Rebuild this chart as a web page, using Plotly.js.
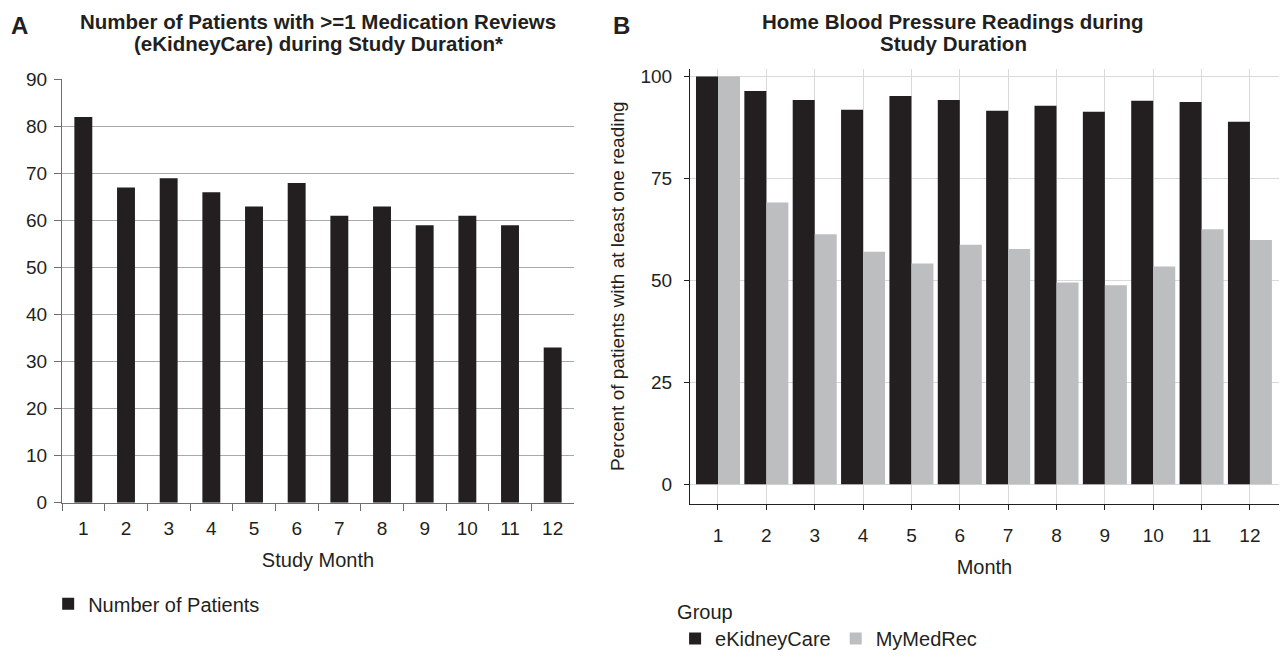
<!DOCTYPE html>
<html>
<head>
<meta charset="utf-8">
<script src="https://cdn.plot.ly/plotly-3.0.1.min.js"></script>
<style>html,body{margin:0;padding:0;background:#fff;}#chart{width:1281px;height:658px;}</style>
</head>
<body>
<div id="chart"></div>
<script>
// Panel A data
const studyMonths = ['1','2','3','4','5','6','7','8','9','10','11','12'];
const numberOfPatients = [82, 67, 69, 66, 63, 68, 61, 63, 59, 61, 59, 33];

// Panel B data
const months = [1,2,3,4,5,6,7,8,9,10,11,12];
const eKidneyCare = [100, 96.4, 94.2, 91.8, 95.2, 94.2, 91.6, 92.8, 91.3, 94.0, 93.7, 88.9];
const myMedRec = [100, 69.1, 61.3, 57.0, 54.1, 58.7, 57.7, 49.5, 48.8, 53.4, 62.5, 59.9];

const dark = '#231f20';
const grey = '#bcbec0';
const font = 'Liberation Sans, Arial, Helvetica, sans-serif';

const traces = [
  {type:'bar', x: studyMonths, y: numberOfPatients, name:'Number of Patients',
   width:0.42, marker:{color:dark}, xaxis:'x', yaxis:'y', legend:'legend'},
  {type:'bar', x: months, y: eKidneyCare, name:'eKidneyCare',
   marker:{color:dark}, xaxis:'x2', yaxis:'y2', legend:'legend2'},
  {type:'bar', x: months, y: myMedRec, name:'MyMedRec',
   marker:{color:grey}, xaxis:'x2', yaxis:'y2', legend:'legend2'}
];

const layout = {
  width:1281, height:658,
  margin:{l:0,r:0,t:0,b:0},
  paper_bgcolor:'#fff', plot_bgcolor:'#fff',
  font:{family:font, size:19, color:dark},
  barmode:'group',
  bargap:0.09, bargroupgap:0,
  showlegend:true,
  xaxis:{
    type:'category', domain:[0.0484,0.4481], anchor:'y',
    tickson:'boundaries', ticks:'outside', ticklen:7, tickcolor:'#6d6e71',
    ticklabelstandoff:8,
    showline:true, linecolor:'#6d6e71', linewidth:1,
    showgrid:false, zeroline:false,
    tickfont:{size:19, color:dark},
    title:{text:'Study Month', font:{size:20, color:dark}, standoff:15}
  },
  yaxis:{
    domain:[0.2204,0.8769], anchor:'x', range:[0,90],
    tickvals:[0,10,20,30,40,50,60,70,80,90],
    ticks:'outside', ticklen:7, tickcolor:'#6d6e71',
    ticklabelstandoff:3,
    showline:true, linecolor:'#6d6e71', linewidth:1,
    showgrid:true, gridcolor:'#a7a9ac', gridwidth:1, zeroline:false,
    tickfont:{size:19, color:dark}
  },
  xaxis2:{
    domain:[0.5386,0.9984], anchor:'y2', range:[0.42,12.6],
    tickvals:months, ticktext:months.map(String),
    ticks:'outside', ticklen:5, tickcolor:dark,
    ticklabelstandoff:9,
    showline:true, linecolor:dark, linewidth:1,
    showgrid:true, gridcolor:'#d9d9d9', gridwidth:1, zeroline:false,
    tickfont:{size:19, color:dark},
    title:{text:'Month', font:{size:20, color:dark}, standoff:15}
  },
  yaxis2:{
    domain:[0.2188,0.8936], anchor:'x2', range:[-4.8,101.9],
    tickvals:[0,25,50,75,100],
    ticks:'outside', ticklen:5, tickcolor:dark,
    ticklabelstandoff:8,
    showline:true, linecolor:dark, linewidth:1,
    showgrid:true, gridcolor:'#d9d9d9', gridwidth:1, zeroline:false,
    tickfont:{size:19, color:dark},
    title:{text:'Percent of patients with at least one reading', font:{size:19, color:dark}, standoff:10}
  },
  legend:{
    orientation:'h', x:0.0376, y:0.064, xanchor:'left', yanchor:'middle',
    font:{size:20, color:dark}, bgcolor:'rgba(0,0,0,0)'
  },
  legend2:{
    orientation:'h', x:0.527, y:0.080, xanchor:'left', yanchor:'top',
    title:{text:'Group', side:'top', font:{size:20, color:dark}},
    font:{size:20, color:dark}, bgcolor:'rgba(0,0,0,0)'
  },
  annotations:[
    {text:'<b>A</b>', xref:'paper', yref:'paper', x:0.007, y:0.961, xanchor:'left', yanchor:'middle', showarrow:false, font:{size:24, color:dark}},
    {text:'<b>Number of Patients with >=1 Medication Reviews</b>', xref:'paper', yref:'paper', x:0.2485, y:0.966, xanchor:'center', yanchor:'middle', showarrow:false, font:{size:20.5, color:dark}},
    {text:'<b>(eKidneyCare) during Study Duration*</b>', xref:'paper', yref:'paper', x:0.2485, y:0.932, xanchor:'center', yanchor:'middle', showarrow:false, font:{size:20.5, color:dark}},
    {text:'<b>B</b>', xref:'paper', yref:'paper', x:0.477, y:0.961, xanchor:'left', yanchor:'middle', showarrow:false, font:{size:24, color:dark}},
    {text:'<b>Home Blood Pressure Readings during</b>', xref:'paper', yref:'paper', x:0.744, y:0.966, xanchor:'center', yanchor:'middle', showarrow:false, font:{size:20.5, color:dark}},
    {text:'<b>Study Duration</b>', xref:'paper', yref:'paper', x:0.744, y:0.932, xanchor:'center', yanchor:'middle', showarrow:false, font:{size:20.5, color:dark}}
  ]
};

Plotly.newPlot('chart', traces, layout, {displayModeBar:false, responsive:false});
</script>
</body>
</html>
